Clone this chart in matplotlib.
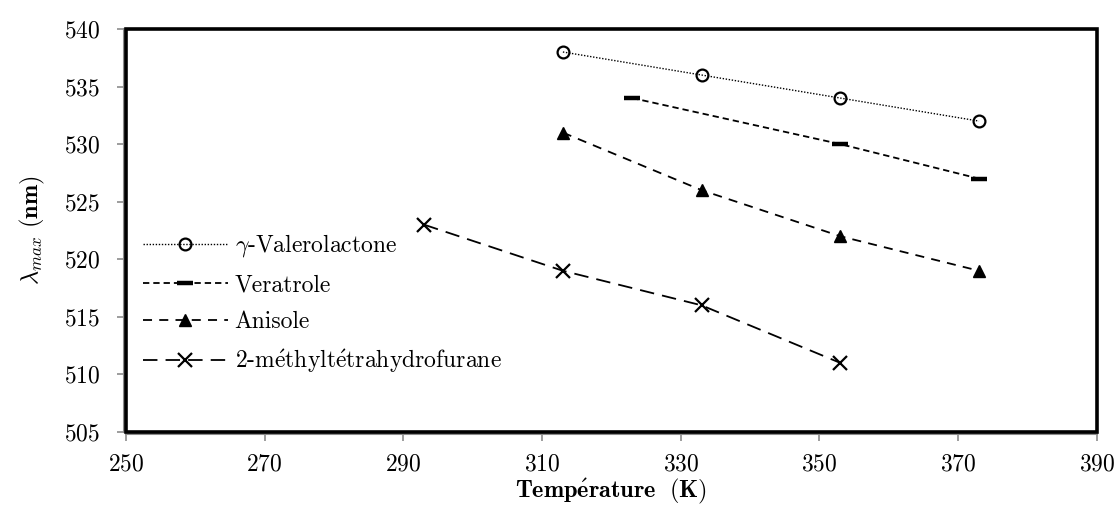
import matplotlib
matplotlib.use("Agg")
import matplotlib.pyplot as plt
from matplotlib.patches import Rectangle

plt.rcParams['font.family'] = ['cmr10', 'DejaVu Serif']
plt.rcParams['mathtext.fontset'] = 'cm'
plt.rcParams['axes.formatter.use_mathtext'] = True

# lambda max vs temperature for each solvent
t_val = [313, 333, 353, 373]
l_val = [538, 536, 534, 532]
t_ver = [323, 353, 373]
l_ver = [534, 530, 527]
t_ani = [313, 333, 353, 373]
l_ani = [531, 526, 522, 519]
t_mthf = [293, 313, 333, 353]
l_mthf = [523, 519, 516, 511]

labels = [r'$\gamma$-Valerolactone', 'Veratrole', 'Anisole',
          r'2-m$\mathrm{\acute{e}}$thylt$\mathrm{\acute{e}}$trahydrofurane']

xticks = list(range(250, 391, 20))
yticks = list(range(505, 541, 5))

fig = plt.figure(figsize=(11.17, 5.08), dpi=100)
ax = fig.add_axes([0.1128, 0.1496, 0.8692, 0.7934])

ax.plot(t_val, l_val, color='k', ls=(0, (1, 1.2)), lw=1.0, marker='o',
        ms=8.5, mfc='none', mec='k', mew=1.6, label=labels[0])
ax.plot(t_ver, l_ver, color='k', ls=(0, (3.5, 2.2)), lw=1.3, marker='_',
        ms=11, mew=3.2, label=labels[1])
ax.plot(t_ani, l_ani, color='k', ls=(0, (5, 4)), lw=1.3, marker='^',
        ms=9, mfc='k', mec='k', label=labels[2])
ax.plot(t_mthf, l_mthf, color='k', ls=(0, (8, 4.5)), lw=1.3, marker='x',
        ms=9.5, mew=1.6, label=labels[3])

ax.set_xlim(250, 390)
ax.set_ylim(505, 540)
ax.set_xticks(xticks)
ax.set_yticks(yticks)
ax.tick_params(axis='both', direction='out', length=5, width=1.2,
               color='#8c8c8c', labelsize=17)
ax.tick_params(axis='y', pad=12)
ax.tick_params(axis='x', pad=9)

# gray axis lines just outside a heavy black box
for side in ['top', 'right']:
    ax.spines[side].set_visible(False)
for side in ['left', 'bottom']:
    ax.spines[side].set_color('#8c8c8c')
    ax.spines[side].set_linewidth(1.5)
    ax.spines[side].set_position(('outward', 1.5))
ax.add_patch(Rectangle((0, 0), 1, 1, transform=ax.transAxes, fill=False,
                       ec='k', lw=2.6, clip_on=False, zorder=5))

ax.set_xlabel(r'$\mathbf{Temp\acute{e}rature\ \ (K)}$', fontsize=17.5, labelpad=1)
ax.set_ylabel(r'$\lambda_{max}$ $\mathbf{(nm)}$', fontsize=17.5, labelpad=12)

ax.legend(loc='lower left', bbox_to_anchor=(0.0, 0.1), frameon=False,
          fontsize=17, handlelength=3.6, handletextpad=0.3,
          labelspacing=0.62, borderaxespad=0.3)

fig.savefig('out.png', dpi=100)
